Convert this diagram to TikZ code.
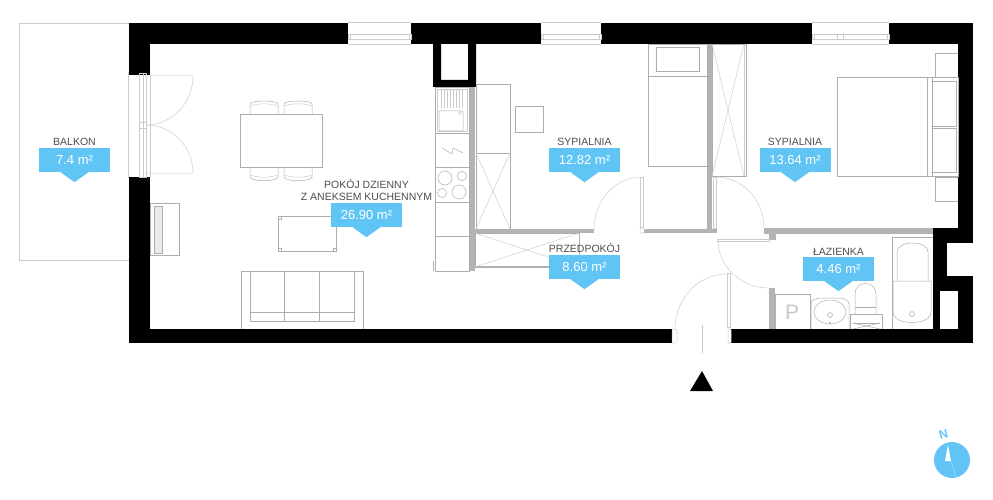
\documentclass[tikz,border=0pt]{standalone}
\usepackage{fontspec}
\setmainfont{Liberation Sans}
\usetikzlibrary{positioning}
\usetikzlibrary{calc}
\definecolor{areablue}{HTML}{60C5F5}
\definecolor{partgray}{HTML}{B3B3B3}
\definecolor{roomtext}{HTML}{4D4D4D}
\tikzset{wall/.style={fill=black,draw=none}}
\tikzset{part/.style={fill=partgray,draw=none}}
\tikzset{furn/.style={draw=black!32,line width=0.5pt}}
\tikzset{thin line/.style={draw=black!20,line width=0.5pt}}
\tikzset{areabox/.style={fill=areablue,text=white,minimum width=71pt,minimum height=24pt,inner sep=0pt,font=\fontsize{13}{13}\selectfont}}
\tikzset{roomname/.style={text=roomtext,inner sep=0.5pt,align=center,font=\fontsize{10.5}{12}\selectfont}}
\newcommand{\arealabel}[5]{%
\node[areabox] (#1) at (#2,#3) {#5};
\fill[areablue] ($(#1.south)+(-14,0)$) -- ($(#1.south)+(0,10)$) -- ($(#1.south)+(14,0)$) -- cycle;
\node[roomname,above=1pt of #1] (#1name) {#4};
}
\begin{document}
\begin{tikzpicture}[x=1pt,y=-1pt]
\useasboundingbox (0,0) rectangle (993,500);

% balcony
\draw[thin line] (129,23) -- (19,23) -- (19,260) -- (129,260);
\draw[thin line] (128,72) -- (128,178);

% outer walls
\fill[wall] (129,23) rectangle (348,44);
\fill[wall] (411,23) rectangle (541,44);
\fill[wall] (601,23) rectangle (812,44);
\fill[wall] (889,23) rectangle (973,44);
\fill[wall] (129,23) rectangle (150,75);
\fill[wall] (129,177) rectangle (150,343);
\fill[wall] (129,329) rectangle (672,343);
\fill[wall] (731,329) rectangle (973,343);
\fill[wall] (958,23) rectangle (973,243);
\fill[wall] (933,228) rectangle (958,243);
\fill[wall] (933,228) rectangle (947,291);
\fill[wall] (933,276) rectangle (973,291);
\fill[wall] (933,291) rectangle (940,329);
\fill[wall] (958,291) rectangle (973,329);
\fill[wall,even odd rule] (433,44) rectangle (476,87) (441,44) rectangle (468,80);

% inner walls
\fill[part] (469,87) rectangle (475,271);
\fill[part] (475,229) rectangle (594,233);
\fill[part] (642,229) rectangle (717,233);
\fill[part] (707,44) rectangle (712,233);
\fill[part] (764,228) rectangle (933,234);
\fill[part] (769,234) rectangle (776,240);
\fill[part] (769,288) rectangle (775,329);
\fill[part] (475,266) rectangle (550,268);

% windows
\foreach \wl/\wr in {348/411,541/601,812/889} {
\draw[thin line] (\wl,22) -- (\wr,22);
\draw[thin line] (\wl,34) -- (\wr,34);
\draw[thin line] (\wl,39) -- (\wr,39);
\draw[thin line] (\wl,44) -- (\wr,44);
\draw[thin line] (\wl,34) rectangle +(2,5);
\draw[thin line] (\wr,34) rectangle +(-2,5);
}
\draw[thin line] (837,34) -- (837,39);
\draw[thin line] (843,34) -- (843,39);

% balcony door
\draw[thin line] (139,73) rectangle (146,177);
\draw[thin line] (143,73) -- (143,177);
\draw[thin line] (150,75) -- (150,177);
\draw[thin line] (139,122) rectangle (146,128);
\draw[thin line] (146,76) -- (193,76) arc[start angle=0,end angle=90,x radius=47,y radius=49];
\draw[thin line] (146,173) -- (193,173) arc[start angle=0,end angle=-90,x radius=47,y radius=48];

% dining table
\draw[furn] (240,114) rectangle (322,167);
\foreach \cx in {250,284} {
\draw[furn] (\cx,114) -- (\cx,104) .. controls (\cx+1,100) and (\cx+27,100) .. (\cx+28,104) -- (\cx+28,114);
\draw[thin line] (\cx,106) .. controls (\cx+10,103) and (\cx+18,103) .. (\cx+28,106);
\draw[furn] (\cx,167) -- (\cx,177) .. controls (\cx+1,182) and (\cx+27,182) .. (\cx+28,177) -- (\cx+28,167);
\draw[thin line] (\cx,175) .. controls (\cx+10,178) and (\cx+18,178) .. (\cx+28,175);
}

% cabinet, coffee table, sofa
\draw[furn] (150,203) rectangle (179,255);
\draw[furn,fill=black!8] (154,206) rectangle (162,253);
\draw[furn] (278,216) rectangle (336,251);
\foreach \tx/\ty in {278/216,278/248,333/248} {
\draw[furn] (\tx,\ty) rectangle +(3,3);
}
\draw[furn] (241,329) -- (241,271) -- (363,271) -- (363,329);
\draw[furn] (250,271) -- (250,321) -- (354,321) -- (354,271);
\draw[furn] (284,271) -- (284,321);
\draw[furn] (319,271) -- (319,321);
\draw[furn] (250,312) -- (354,312);

% kitchen counter
\draw[furn] (435,87) rectangle (469,271);
\draw[furn] (435,133) -- (469,133);
\draw[furn] (435,167) -- (469,167);
\draw[furn] (435,202) -- (469,202);
\draw[furn] (435,236) -- (469,236);
\draw[furn] (433.5,261) -- (433.5,271);
\draw[thin line] (437,89) rectangle (467,131);
\foreach \sx in {441,444,...,462} {
\draw[thin line] (\sx,90) -- (\sx,108);
}
\draw[furn,rounded corners=1pt] (439,111) rectangle (463,131);
\draw[thin line] (460,113) circle (1.5);
\draw[furn] (442,148) -- (452,154) -- (453,148) -- (463,153);
\draw[furn] (445,178) circle (7);
\draw[furn] (462,176) circle (4.5);
\draw[furn] (442,193) circle (4.5);
\draw[furn] (459,192) circle (7);

% wardrobes and desk
\draw[furn] (476,84) rectangle (510,229);
\draw[furn] (476,153) -- (510,153);
\draw[thin line] (476,153) -- (510,229);
\draw[thin line] (510,153) -- (476,229);
\draw[furn] (515,106) rectangle (543,132);
\draw[furn] (475,233) rectangle (579,267);
\draw[thin line] (475,233) -- (579,267);
\draw[thin line] (475,267) -- (579,233);
\draw[furn] (712,44) rectangle (746,176);
\draw[thin line] (744,44) -- (744,176);
\draw[thin line] (712,44) -- (744,176);
\draw[thin line] (744,44) -- (712,176);

% beds
\draw[furn] (648,44) rectangle (707,166);
\draw[furn] (648,76) -- (707,76);
\draw[furn] (656,47) rectangle (699,71);
\draw[furn] (837,77) rectangle (958,176);
\draw[furn] (927,77) -- (927,176);
\draw[furn] (932,77) -- (932,176);
\draw[furn] (932,81) -- (956,81) -- (956,126) -- (932,126);
\draw[furn] (932,128) -- (956,128) -- (956,172) -- (932,172);
\draw[furn] (958,53) -- (935,53) -- (935,77);
\draw[furn] (958,201) -- (935,201) -- (935,177) -- (958,177);

% doors
\foreach \dx/\dy/\dw/\dh in {640/177/3/50,713/177/3/51,727/273/3/54,717/239/52/2} {
\draw[thin line] (\dx,\dy) rectangle +(\dw,\dh);
}
\draw[thin line] (642,177) arc[start angle=-90,end angle=-180,x radius=48,y radius=52];
\draw[thin line] (716,177) arc[start angle=-90,end angle=0,x radius=48,y radius=51];
\draw[thin line] (718,240) arc[start angle=180,end angle=90,x radius=51,y radius=48];
\draw[thin line] (727,274) arc[start angle=-90,end angle=-180,x radius=52,y radius=55];
\draw[thin line,fill=white,rounded corners=1pt] (640,228) rectangle (644,233);
\draw[thin line,fill=white,rounded corners=1pt] (672,329) rectangle (677,343);
\draw[thin line,fill=white,rounded corners=1pt] (728,329) rectangle (731,343);

% bathroom
\draw[furn] (775,329) -- (775,294) -- (810,294) -- (810,329);
\node[text=black!22,font=\fontsize{21}{21}\selectfont] (washer) at (792,312) {P};
\draw[furn] (811,329) -- (811,304) .. controls (811,300) and (816,298) .. (821,298) -- (839,298) .. controls (844,298) and (849,300) .. (849,304) -- (849,329);
\draw[furn] (830,312) ellipse (16 and 12);
\draw[furn] (830,315) circle (2.5);
\fill[black!40] (830,323) circle (1);
\draw[furn] (850,329) -- (850,314) -- (882,314) -- (882,329);
\draw[furn] (855,314) -- (855,294) .. controls (855,280) and (876,280) .. (876,294) -- (876,314);
\draw[furn] (855,307) -- (876,307);
\draw[furn] (853,323) -- (880,329);
\draw[furn] (880,323) -- (853,329);
\draw[furn] (853,323) -- (880,323);
\draw[furn] (892,329) -- (892,237) -- (933,237);
\draw[furn] (897,281) -- (897,252) .. controls (897,240) and (928,240) .. (928,252) -- (928,281);
\draw[furn] (893,281) -- (931,281) -- (931,312) .. controls (931,326) and (893,326) .. (893,312) -- cycle;
\draw[furn] (912,314) circle (2.5);

% entrance
\coordinate (enter top) at (702,325);
\coordinate (enter low) at (702,353);
\draw[thin line] (enter top) -- (enter low);
\fill[black] (702,371) -- (713,391) -- (690,391) -- cycle;

% north arrow
\fill[areablue] (952,460) circle (18);
\fill[white] (948,445) -- (951,461) -- (945,461) -- cycle;
\draw[white,opacity=0.4,line width=0.5pt] (951,461) -- (956,477);
\node[text=areablue,rotate=15,font=\bfseries\fontsize{12}{12}\selectfont] (north) at (943.5,434.5) {N};

% labels
\arealabel{balcony}{74.5}{160}{BALKON}{7.4 m²}
\arealabel{living}{366.5}{215}{POKÓJ DZIENNY\\Z ANEKSEM KUCHENNYM}{26.90 m²}
\arealabel{bedroomA}{584.5}{160}{SYPIALNIA}{12.82 m²}
\arealabel{hall}{584.5}{267}{PRZEDPOKÓJ}{8.60 m²}
\arealabel{bedroomB}{795}{160}{SYPIALNIA}{13.64 m²}
\arealabel{bath}{838.5}{269}{ŁAZIENKA}{4.46 m²}
\end{tikzpicture}
\end{document}
